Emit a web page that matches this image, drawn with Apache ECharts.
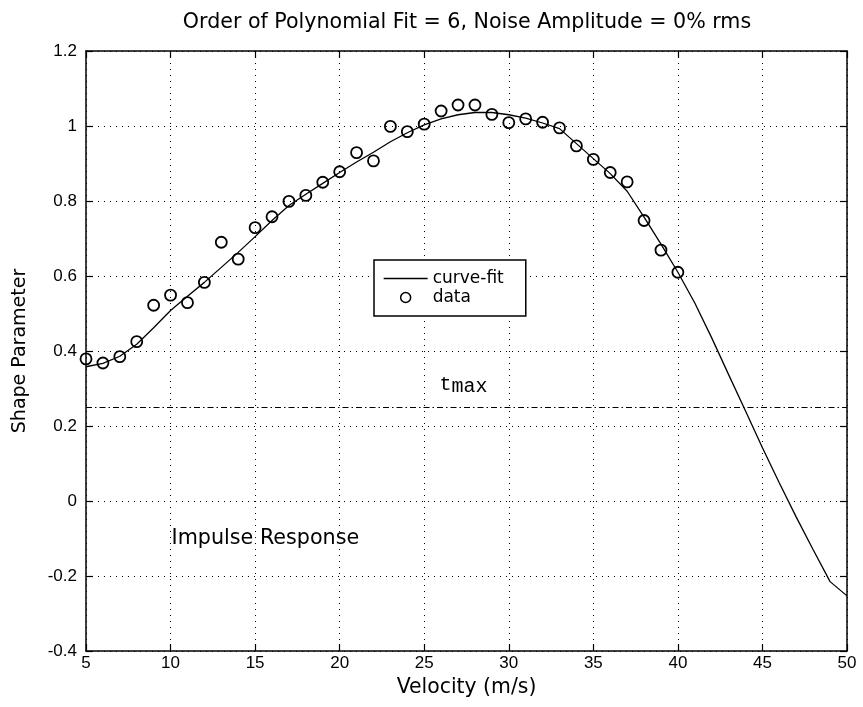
<!DOCTYPE html>
<html>
<head>
<meta charset="utf-8">
<script src="https://cdn.jsdelivr.net/npm/echarts@6/dist/echarts.min.js"></script>
<style>
  html, body { margin: 0; padding: 0; background: #fff; }
  #chart { width: 863px; height: 707px; }
</style>
</head>
<body>
<div id="chart"></div>
<script>
// Measured shape parameter at each test velocity
var dataVelocity = [5, 6, 7, 8, 9, 10, 11, 12, 13, 14, 15, 16, 17, 18, 19, 20, 21, 22,
  23, 24, 25, 26, 27, 28, 29, 30, 31, 32, 33, 34, 35, 36, 37, 38, 39, 40];
var dataShape = [0.379, 0.368, 0.385, 0.425, 0.522, 0.549, 0.529, 0.583, 0.690, 0.645,
  0.729, 0.758, 0.799, 0.815, 0.850, 0.878, 0.929, 0.907, 0.999, 0.985, 1.005, 1.040,
  1.056, 1.056, 1.031, 1.009, 1.019, 1.010, 0.995, 0.947, 0.911, 0.876, 0.851, 0.748,
  0.669, 0.610];

// 6th-order polynomial fit, evaluated at each velocity from 5 to 50
var fitVelocity = [5, 6, 7, 8, 9, 10, 11, 12, 13, 14, 15, 16, 17, 18, 19, 20, 21, 22, 23,
  24, 25, 26, 27, 28, 29, 30, 31, 32, 33, 34, 35, 36, 37, 38, 39, 40, 41, 42, 43, 44, 45,
  46, 47, 48, 49, 50];
var fitShape = [0.358, 0.367, 0.386, 0.418, 0.462, 0.508, 0.546, 0.583, 0.623, 0.663,
  0.705, 0.748, 0.788, 0.818, 0.847, 0.876, 0.904, 0.930, 0.958, 0.982, 1.003, 1.019,
  1.030, 1.036, 1.036, 1.030, 1.021, 1.008, 0.993, 0.953, 0.913, 0.873, 0.826, 0.757,
  0.685, 0.610, 0.528, 0.435, 0.337, 0.240, 0.142, 0.048, -0.043, -0.130, -0.215, -0.253];

// Threshold level t_max
var tMaxLevel = [0.25];

// Axis ticks
var xTicks = [5, 10, 15, 20, 25, 30, 35, 40, 45, 50];
var yTicks = [-0.4, -0.2, 0, 0.2, 0.4, 0.6, 0.8, 1, 1.2];

// Text notes placed in data coordinates
var noteText = ['tmax', 'Impulse Response'];
var noteAt = [[25.85, 0.31], [10, -0.1]];

var seriesNames = ['curve-fit', 'data'];
var titleText = 'Order of Polynomial Fit = 6, Noise Amplitude = 0% rms';
var xName = 'Velocity (m/s)';
var yName = 'Shape Parameter';

var SANS = '"DejaVu Sans", "Liberation Sans", sans-serif';
var TICKFONT = '"Liberation Sans", Arial, sans-serif';
var MONO = '"Liberation Mono", "DejaVu Sans Mono", monospace';

function pairs(xs, ys) {
  return xs.map(function (x, i) { return [x, ys[i]]; });
}
function fmt(v) {
  return String(Math.round(v * 1000) / 1000);
}

var gridDots = { type: [1, 5], color: '#000', width: 1 };

var xBase = {
  type: 'value',
  min: xTicks[0],
  max: xTicks[xTicks.length - 1],
  interval: xTicks[1] - xTicks[0],
  axisLine: { show: true, onZero: false, lineStyle: { color: '#000', width: 1.5 } },
  axisTick: { show: true, inside: true, length: 7, lineStyle: { color: '#000', width: 1.2 } }
};
var yBase = {
  type: 'value',
  min: yTicks[0],
  max: yTicks[yTicks.length - 1],
  interval: Math.round((yTicks[1] - yTicks[0]) * 10) / 10,
  axisLine: { show: true, onZero: false, lineStyle: { color: '#000', width: 1.5 } },
  axisTick: { show: true, inside: true, length: 7, lineStyle: { color: '#000', width: 1.2 } }
};

var chart = echarts.init(document.getElementById('chart'), null, { renderer: 'canvas' });

chart.setOption({
  animation: false,
  backgroundColor: '#fff',
  title: {
    text: titleText,
    left: 467,
    top: 12,
    padding: 0,
    textAlign: 'center',
    textStyle: { fontFamily: SANS, fontSize: 20.6, fontWeight: 'normal', color: '#000' }
  },
  grid: { left: 86, top: 51, right: 16, bottom: 56, containLabel: false },
  legend: {
    orient: 'vertical',
    left: 374,
    top: 260,
    padding: [10, 22, 10, 9],
    itemGap: 2,
    itemWidth: 44,
    itemHeight: 10,
    backgroundColor: '#fff',
    borderColor: '#000',
    borderWidth: 1.5,
    selectedMode: false,
    textStyle: { fontFamily: SANS, fontSize: 17, color: '#000', padding: [0, 0, 0, 0] },
    data: [
      { name: seriesNames[0],
        itemStyle: { color: 'rgba(0,0,0,0)', borderColor: 'rgba(0,0,0,0)', borderWidth: 0 },
        lineStyle: { color: '#000', width: 1.3 } },
      { name: seriesNames[1], icon: 'circle',
        itemStyle: { color: 'rgba(0,0,0,0)', borderColor: '#000', borderWidth: 1.5, opacity: 1 } }
    ]
  },
  xAxis: [
    Object.assign({}, xBase, {
      position: 'bottom',
      name: xName,
      nameLocation: 'middle',
      nameGap: 27,
      nameTextStyle: { fontFamily: SANS, fontSize: 20.4, color: '#000' },
      axisLabel: { show: true, margin: 4, color: '#000', fontFamily: TICKFONT, fontSize: 17, formatter: fmt },
      splitLine: { show: true, lineStyle: gridDots }
    }),
    Object.assign({}, xBase, {
      position: 'top',
      axisLabel: { show: false },
      splitLine: { show: false }
    })
  ],
  yAxis: [
    Object.assign({}, yBase, {
      position: 'left',
      name: yName,
      nameLocation: 'middle',
      nameGap: 56,
      nameRotate: 90,
      nameTextStyle: { fontFamily: SANS, fontSize: 19, color: '#000' },
      axisLabel: { show: true, margin: 9, color: '#000', fontFamily: TICKFONT, fontSize: 17, formatter: fmt },
      splitLine: { show: true, lineStyle: gridDots }
    }),
    Object.assign({}, yBase, {
      position: 'right',
      axisLabel: { show: false },
      splitLine: { show: false }
    })
  ],
  series: [
    {
      name: seriesNames[0],
      type: 'line',
      xAxisIndex: 0,
      yAxisIndex: 0,
      data: pairs(fitVelocity, fitShape),
      symbol: 'none',
      smooth: false,
      lineStyle: { color: '#000', width: 1.3 },
      itemStyle: { color: '#000' },
      silent: true,
      z: 2,
      markLine: {
        silent: true,
        symbol: ['none', 'none'],
        label: { show: false },
        lineStyle: { color: '#000', width: 1.2, type: [6, 3, 1.5, 3] },
        data: tMaxLevel.map(function (v) { return { yAxis: v }; })
      }
    },
    {
      name: seriesNames[1],
      type: 'scatter',
      xAxisIndex: 0,
      yAxisIndex: 0,
      data: pairs(dataVelocity, dataShape),
      symbol: 'circle',
      symbolSize: 11,
      itemStyle: { color: 'rgba(0,0,0,0)', borderColor: '#000', borderWidth: 1.8, opacity: 1 },
      silent: true,
      z: 3
    },
    {
      name: 'notes',
      type: 'scatter',
      xAxisIndex: 0,
      yAxisIndex: 0,
      symbolSize: 0,
      silent: true,
      z: 4,
      itemStyle: { opacity: 1 },
      data: noteText.map(function (t, i) {
        return { value: noteAt[i], name: t };
      }),
      label: {
        show: true,
        position: 'right',
        distance: 1,
        align: 'left',
        verticalAlign: 'middle',
        color: '#000',
        formatter: function (p) {
          if (p.name === 'tmax') return '{t|t}{s|max}';
          return '{n|' + p.name + '}';
        },
        rich: {
          t: { fontFamily: MONO, fontSize: 20, color: '#000' },
          s: { fontFamily: MONO, fontSize: 20, color: '#000', padding: [4, 0, 0, 0] },
          n: { fontFamily: SANS, fontSize: 20.7, color: '#000' }
        }
      }
    }
  ]
});
</script>
</body>
</html>
